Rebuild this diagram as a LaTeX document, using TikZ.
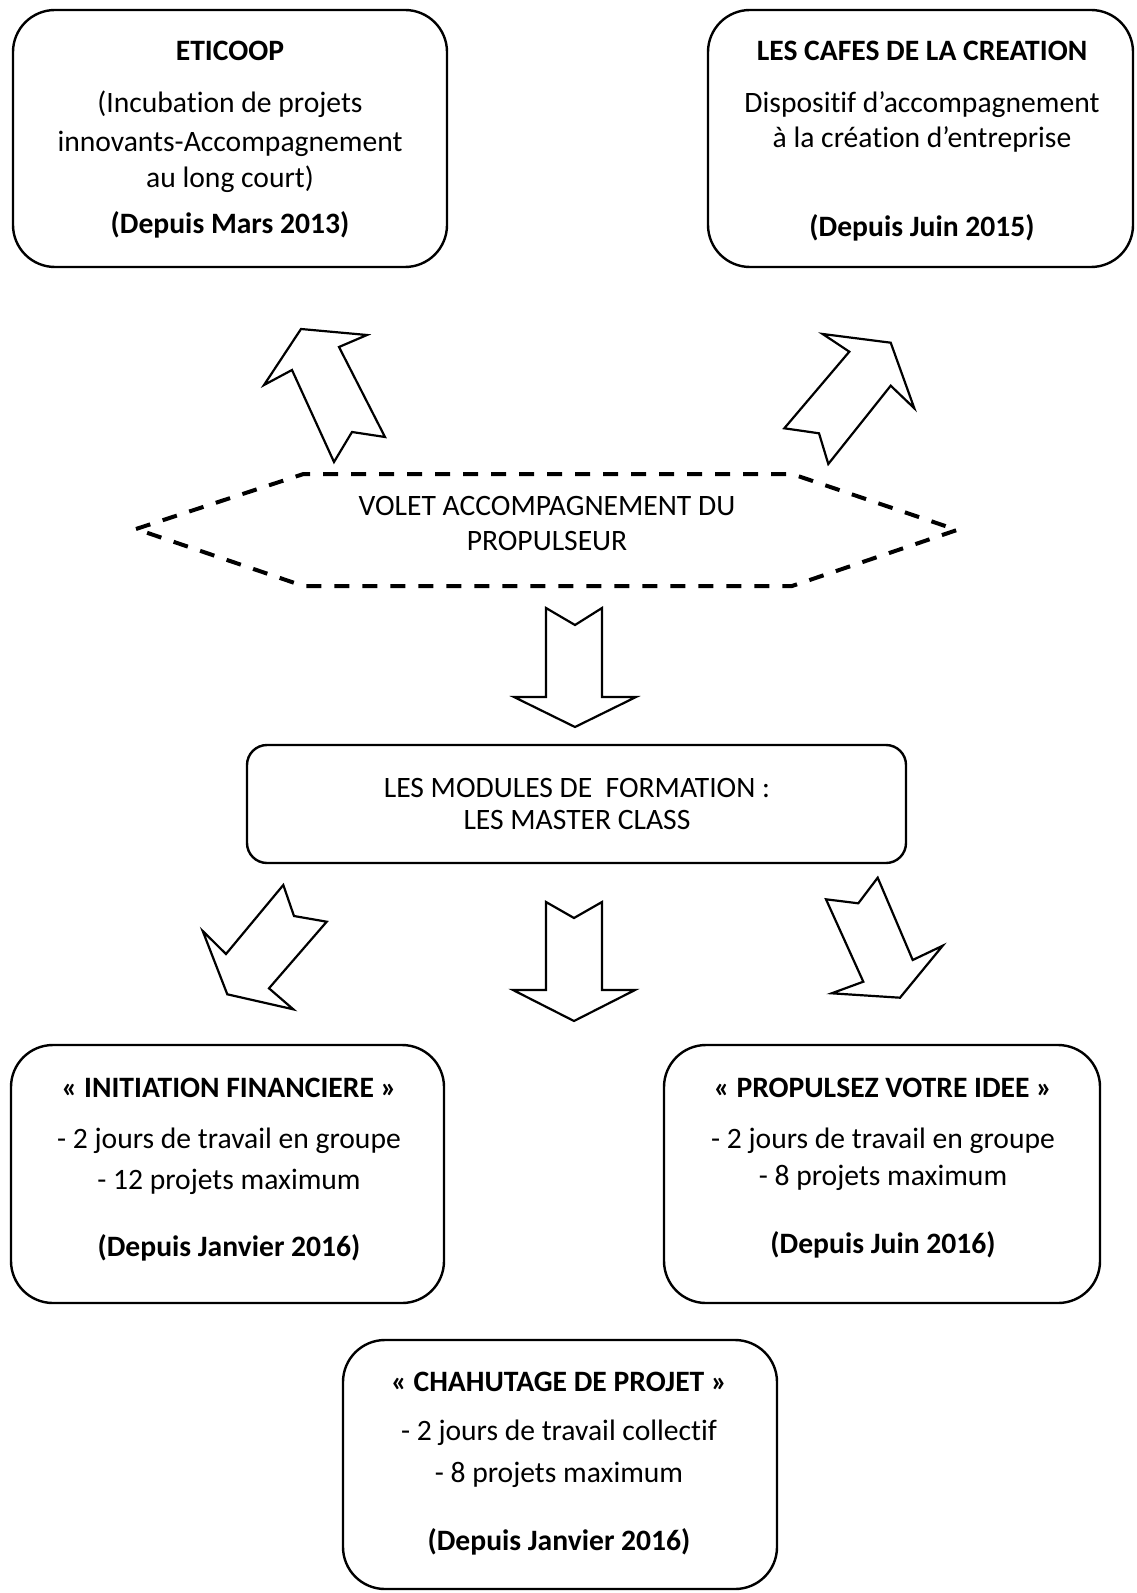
\documentclass[tikz,border=0pt]{standalone}
\usepackage{fontspec}
\setmainfont{Carlito}[Ligatures=NoCommon]
\begin{document}
\begin{tikzpicture}[x=0.5pt,y=-0.5pt,
  box/.style={draw=black,line width=1.2pt,rounded corners=21pt,inner sep=0pt,outer sep=0pt},
  smallbox/.style={draw=black,line width=1.2pt,rounded corners=10pt,inner sep=0pt,outer sep=0pt},
  blockarrow/.style={draw=black,line width=1.1pt,fill=white,line join=miter},
  txt/.style={anchor=base,inner sep=0pt,font=\fontsize{14.8}{18}\selectfont},
  btxt/.style={anchor=base,inner sep=0pt,font=\fontsize{14.8}{18}\selectfont\bfseries},
  hexa/.style={draw=black,line width=2pt,dash pattern=on 7.5pt off 6.5pt}]

\useasboundingbox (0,0) rectangle (1136,1593);

% boxes
\node[box,minimum width=217pt,minimum height=128.5pt] (eticoop) at (230,138.5) {};
\node[box,minimum width=212.5pt,minimum height=128.5pt] (cafes) at (920.5,138.5) {};
\node[smallbox,minimum width=329.5pt,minimum height=59pt] (modules) at (576.5,804) {};
\node[box,minimum width=216.5pt,minimum height=129pt] (initiation) at (227.5,1174) {};
\node[box,minimum width=218pt,minimum height=129pt] (propulsez) at (882,1174) {};
\node[box,minimum width=217pt,minimum height=124.5pt] (chahutage) at (560,1464.5) {};

% hexagon
\draw[hexa] (136,529) -- (303.5,474) -- (792,474) -- (957,530) -- (792,586) -- (303.5,586) -- cycle;

% texts
\node[btxt] (e1) at (230,61) {ETICOOP};
\node[txt] (e2) at (230,113) {(Incubation de projets};
\node[txt] (e3) at (230,152) {innovants-Accompagnement};
\node[txt] (e4) at (230,188) {au long court)};
\node[btxt] (e5) at (230,234) {(Depuis Mars 2013)};

\node[btxt] (c1) at (922,61) {LES CAFES DE LA CREATION};
\node[txt] (c2) at (922,113) {Dispositif d’accompagnement};
\node[txt] (c3) at (922,148) {à la création d’entreprise};
\node[btxt] (c4) at (922,237) {(Depuis Juin 2015)};

\node[txt] (v1) at (547,515) {VOLET ACCOMPAGNEMENT DU};
\node[txt] (v2) at (547,550) {PROPULSEUR};

\node[txt] (m1) at (577,797) {LES MODULES DE~ FORMATION :};
\node[txt] (m2) at (577,829) {LES MASTER CLASS};

\node[btxt] (i1) at (229,1097) {« INITIATION FINANCIERE »};
\node[txt] (i2) at (229,1148) {- 2 jours de travail en groupe};
\node[txt] (i3) at (229,1189) {- 12 projets maximum};
\node[btxt] (i4) at (229,1256) {(Depuis Janvier 2016)};

\node[btxt] (p1) at (883,1097) {« PROPULSEZ VOTRE IDEE »};
\node[txt] (p2) at (883,1148) {- 2 jours de travail en groupe};
\node[txt] (p3) at (883,1185) {- 8 projets maximum};
\node[btxt] (p4) at (883,1253) {(Depuis Juin 2016)};

\node[btxt] (h1) at (559,1391) {« CHAHUTAGE DE PROJET »};
\node[txt] (h2) at (559,1440) {- 2 jours de travail collectif};
\node[txt] (h3) at (559,1482) {- 8 projets maximum};
\node[btxt] (h4) at (559,1550) {(Depuis Janvier 2016)};

% block arrows
\draw[blockarrow] (301,329) -- (367,335) -- (339,347) -- (385,437) -- (352,432) -- (334,462) -- (292,370) -- (264,385) -- cycle;
\draw[blockarrow] (822.7,334) -- (890.7,342.7) -- (914.3,408.3) -- (890.7,385.7) -- (828.3,464) -- (819,433.3) -- (784.3,428.3) -- (849.3,351.7) -- cycle;
\draw[blockarrow] (546,608) -- (575,625) -- (602,608) -- (602,697) -- (636,697) -- (575,727) -- (514,697) -- (546,697) -- cycle;
\draw[blockarrow] (283.3,885) -- (294,916) -- (326.7,921.7) -- (269,988.3) -- (293.3,1009.3) -- (227.3,994.3) -- (202.7,931) -- (226,954) -- cycle;
\draw[blockarrow] (546,902) -- (574,918) -- (602,902) -- (602,990) -- (635,990) -- (574,1021) -- (513,990) -- (546,990) -- cycle;
\draw[blockarrow] (877.7,877.7) -- (912.7,960) -- (942.7,945.7) -- (900,997.7) -- (831.7,993.3) -- (863.3,981.7) -- (826,899.3) -- (858.3,903.3) -- cycle;
\end{tikzpicture}
\end{document}
